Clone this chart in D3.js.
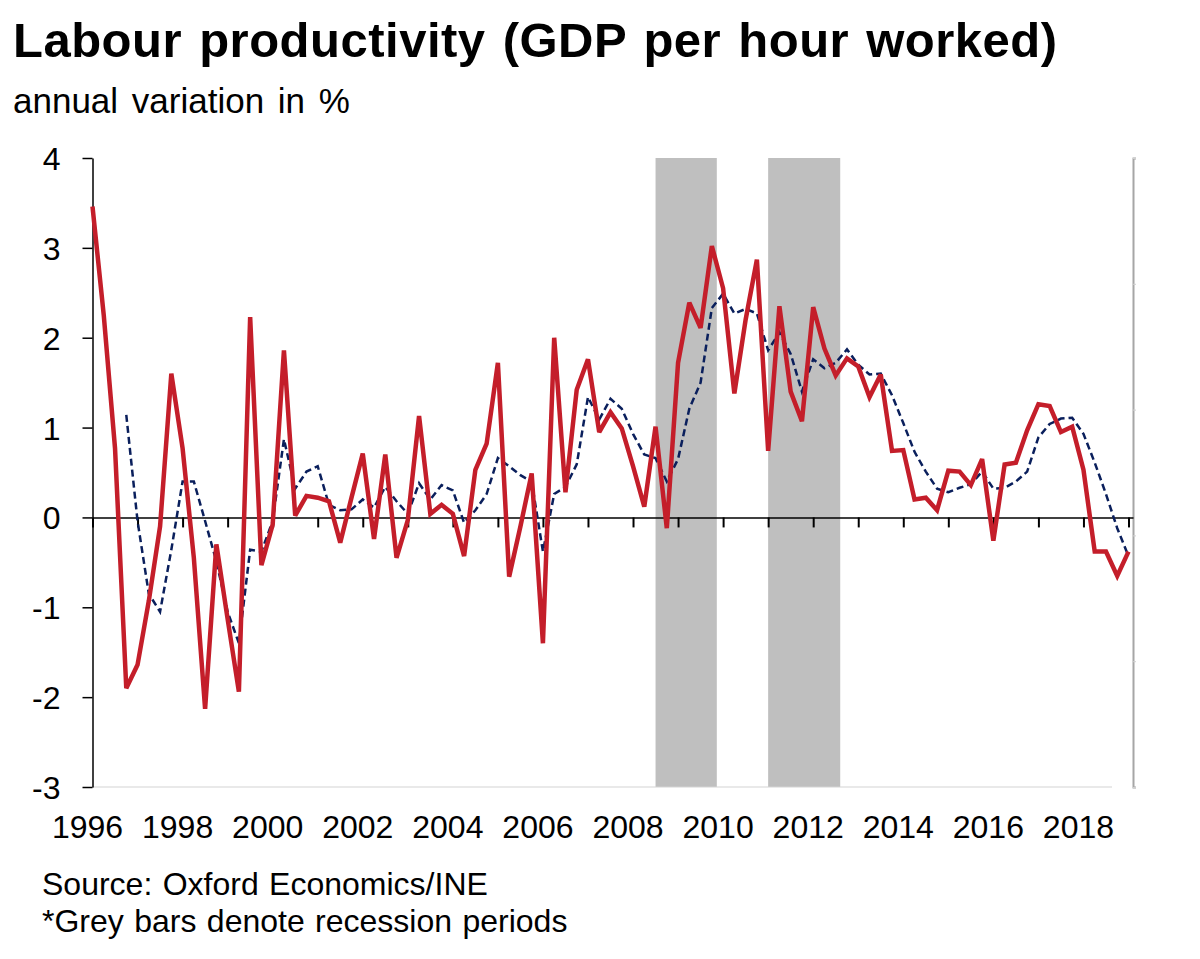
<!DOCTYPE html>
<html>
<head>
<meta charset="utf-8">
<script src="https://cdn.jsdelivr.net/npm/d3@7"></script>
<style>
  html, body { margin: 0; padding: 0; background: #ffffff; }
  svg { display: block; font-family: "Liberation Sans", Arial, sans-serif; }
</style>
</head>
<body>
<svg id="chart" width="1200" height="959"></svg>
<script>
// ---------------- data ----------------
const titleText = "Labour productivity (GDP per hour worked)";
const subtitleText = "annual variation in %";
const sourceLines = ["Source: Oxford Economics/INE", "*Grey bars denote recession periods"];

// quarterly observations, 1996 Q1 ... 2019 Q1
const firstYear = 1996;
const quarterCount = 93;
const quarters = d3.range(quarterCount).map(i => firstYear + i / 4);

// quarterly y/y growth (red line)
const quarterly = [
  3.46, 2.25, 0.77, -1.90, -1.64, -0.93, -0.10, 1.60, 0.77, -0.45,
  -2.13, -0.30, -1.13, -1.94, 2.23, -0.53, -0.08, 1.86, 0.02, 0.24,
  0.22, 0.18, -0.28, 0.22, 0.71, -0.24, 0.70, -0.45, -0.03, 1.13,
  0.04, 0.14, 0.04, -0.43, 0.53, 0.82, 1.72, -0.66, -0.10, 0.49,
  -1.40, 2.00, 0.28, 1.42, 1.76, 0.95, 1.17, 0.99, 0.57, 0.12,
  1.01, -0.12, 1.72, 2.39, 2.11, 3.02, 2.55, 1.38, 2.20, 2.87,
  0.74, 2.35, 1.40, 1.07, 2.34, 1.88, 1.58, 1.77, 1.68, 1.34,
  1.59, 0.74, 0.75, 0.20, 0.22, 0.08, 0.52, 0.51, 0.36, 0.65,
  -0.26, 0.59, 0.61, 0.97, 1.26, 1.24, 0.95, 1.01, 0.53, -0.38,
  -0.38, -0.65, -0.38
];

// four-quarter average (blue dashed), starts 1996 Q4
const annualAvg = [
  null, null, null, 1.14, -0.04, -0.85, -1.05, -0.36, 0.40, 0.40,
  -0.04, -0.49, -1.05, -1.40, -0.36, -0.38, -0.04, 0.87, 0.32, 0.51,
  0.57, 0.14, 0.08, 0.09, 0.20, 0.11, 0.34, 0.18, 0.04, 0.38,
  0.20, 0.36, 0.30, -0.06, 0.08, 0.26, 0.66, 0.57, 0.47, 0.40,
  -0.38, 0.26, 0.34, 0.59, 1.34, 1.09, 1.32, 1.21, 0.93, 0.70,
  0.66, 0.40, 0.65, 1.21, 1.50, 2.33, 2.49, 2.27, 2.32, 2.27,
  1.86, 2.06, 1.82, 1.40, 1.76, 1.66, 1.72, 1.87, 1.70, 1.59,
  1.60, 1.36, 1.05, 0.73, 0.51, 0.32, 0.28, 0.33, 0.37, 0.51,
  0.32, 0.33, 0.40, 0.51, 0.89, 1.04, 1.10, 1.11, 0.93, 0.61,
  0.26, -0.12, -0.43
];

// recession periods (decimal years)
const recessionStart = [2008.5, 2011.0];
const recessionEnd   = [2009.86, 2012.6];

const yTicks = [-3, -2, -1, 0, 1, 2, 3, 4];
const yearTicks = d3.range(1996, 2020);            // tick marks every year
const yearLabels = [1996, 1998, 2000, 2002, 2004, 2006, 2008, 2010, 2012, 2014, 2016, 2018];

// ---------------- layout ----------------
const svg = d3.select("#chart");
const plotLeft = 92.5, plotRight = 1133, plotTop = 158, plotBottom = 787;

const x = d3.scaleLinear().domain([1996, 2019.1]).range([plotLeft, plotRight]);
const y = d3.scaleLinear().domain([-3, 4]).range([plotBottom, plotTop]);

// titles
svg.append("text").attr("x", 13).attr("y", 57)
  .attr("font-size", 49).attr("font-weight", "bold").attr("fill", "#000")
  .attr("letter-spacing", 0.5).attr("word-spacing", 3)
  .text(titleText);
svg.append("text").attr("x", 13).attr("y", 113)
  .attr("font-size", 35).attr("fill", "#000")
  .attr("word-spacing", 4)
  .text(subtitleText);

// recession bars
svg.append("g").selectAll("rect")
  .data(recessionStart.map((s, i) => [s, recessionEnd[i]]))
  .join("rect")
  .attr("x", d => x(d[0]))
  .attr("width", d => x(d[1]) - x(d[0]))
  .attr("y", y(4))
  .attr("height", y(-3) - y(4))
  .attr("fill", "#bfbfbf");

// bottom light line
svg.append("line")
  .attr("x1", plotLeft).attr("x2", 1112)
  .attr("y1", y(-3)).attr("y2", y(-3))
  .attr("stroke", "#d4d4d4").attr("stroke-width", 1.2);

// right (secondary) axis - gray, unlabeled
const y2 = d3.scaleLinear().domain([0, 5]).range([plotBottom, plotTop]);
const rightAxis = d3.axisRight(y2).ticks(5).tickSize(3).tickFormat("");
const gR = svg.append("g").attr("transform", `translate(${plotRight},0)`).call(rightAxis);
gR.select(".domain").attr("stroke", "#a6a6a6").attr("stroke-width", 2);
gR.selectAll(".tick line").attr("stroke", "#cfcfcf").attr("stroke-width", 1);

// left axis
const leftAxis = d3.axisLeft(y).tickValues(yTicks).tickSize(10).tickSizeOuter(0)
  .tickFormat(d => d);
const gL = svg.append("g").attr("transform", `translate(${plotLeft},0)`).call(leftAxis);
gL.select(".domain").attr("stroke", "#000").attr("stroke-width", 1.5);
gL.selectAll(".tick line").attr("stroke", "#000").attr("stroke-width", 1.5);
gL.selectAll(".tick text")
  .attr("x", -32).attr("dy", "0.36em")
  .attr("font-size", 32).attr("font-family", "Liberation Sans, Arial, sans-serif")
  .attr("fill", "#000");

// zero line with yearly ticks
const zeroAxis = d3.axisBottom(x).tickValues(yearTicks).tickSize(10).tickSizeOuter(0).tickFormat("");
const gZ = svg.append("g").attr("transform", `translate(0,${y(0)})`).call(zeroAxis);
gZ.select(".domain").attr("stroke", "#000").attr("stroke-width", 1.5);
gZ.selectAll(".tick line").attr("stroke", "#000").attr("stroke-width", 2);

// year labels
svg.append("g").selectAll("text")
  .data(yearLabels)
  .join("text")
  .attr("x", d => x(d) - 5)
  .attr("y", 838)
  .attr("text-anchor", "middle")
  .attr("font-size", 32)
  .attr("fill", "#000")
  .text(d => d);

// lines
const lineRed = d3.line()
  .x((d, i) => x(quarters[i]))
  .y(d => y(d));
const lineBlue = d3.line()
  .defined(d => d !== null)
  .x((d, i) => x(quarters[i]))
  .y(d => y(d));

svg.append("path")
  .datum(annualAvg)
  .attr("d", lineBlue)
  .attr("fill", "none")
  .attr("stroke", "#0a1f5c")
  .attr("stroke-width", 2.5)
  .attr("stroke-dasharray", "7,4");

svg.append("path")
  .datum(quarterly)
  .attr("d", lineRed)
  .attr("fill", "none")
  .attr("stroke", "#c41e2a")
  .attr("stroke-width", 4.5)
  .attr("stroke-linejoin", "miter")
  .attr("stroke-miterlimit", 3);

// source notes
svg.append("g").selectAll("text")
  .data(sourceLines)
  .join("text")
  .attr("x", 42)
  .attr("y", (d, i) => 895 + i * 37)
  .attr("font-size", 32)
  .attr("word-spacing", 1.5)
  .attr("fill", "#000")
  .text(d => d);
</script>
</body>
</html>
